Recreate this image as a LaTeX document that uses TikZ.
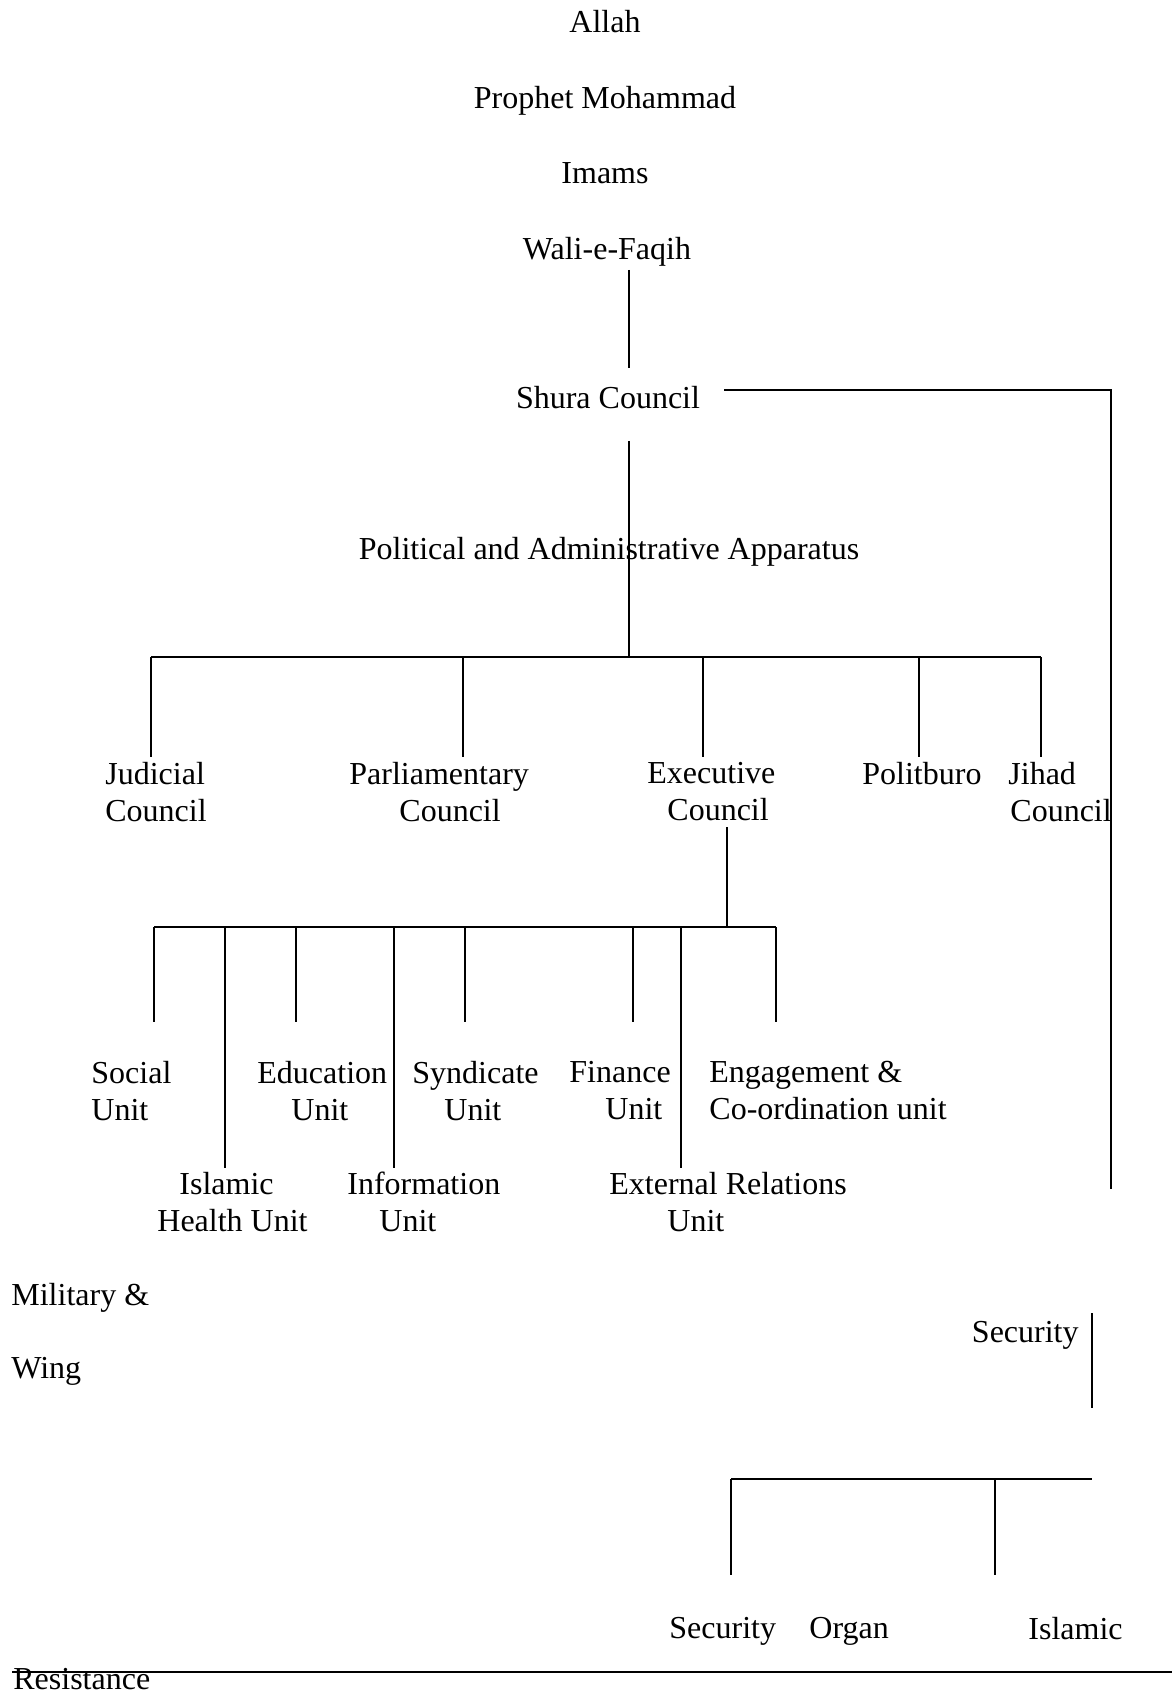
\documentclass[tikz,border=0pt]{standalone}
\usepackage{fontspec}
\setmainfont{Liberation Serif}
\begin{document}
\begin{tikzpicture}[x=0.5pt,y=-0.5pt,
  lbl/.style={inner sep=0pt, font=\fontsize{16}{18.5}\selectfont},
  lft/.style={lbl, anchor=west, align=left},
  ln/.style={line width=1pt}]
\useasboundingbox (0,0) rectangle (1172,1695);
% top chain
\node[lbl] (allah) at (605,22) {Allah};
\node[lbl] (prophet) at (605,101) {Prophet Mohammad};
\node[lbl] (imams) at (605,173) {Imams};
\node[lbl] (wali) at (607,252) {Wali-e-Faqih};
\node[lbl] (shura) at (608,398) {Shura Council};
\node[lbl] (paa) at (609,552) {Political and Administrative Apparatus};
% councils
\node[lft] (jud) at (105,792) {Judicial\\Council};
\node[lft] (parl) at (349,792) {Parliamentary\\\hspace*{25pt}Council};
\node[lft] (exec) at (647,792) {Executive\\\hspace*{10pt}Council};
\node[lft] (polit) at (862,774) {Politburo};
\node[lft] (jihad) at (1008,792) {Jihad\\\hspace*{1pt}Council};
% units
\node[lft] (social) at (91,1091) {Social\\Unit};
\node[lft] (edu) at (257,1091) {Education\\\hspace*{17pt}Unit};
\node[lft] (synd) at (412,1091) {Syndicate\\\hspace*{16pt}Unit};
\node[lft] (fin) at (569,1091) {Finance\\\hspace*{18pt}Unit};
\node[lft] (eng) at (709,1091) {Engagement \&\\Co-ordination unit};
\node[lft] (islh) at (157,1202) {\hspace*{11pt}Islamic\\Health Unit};
\node[lft] (info) at (347,1202) {Information\\\hspace*{16pt}Unit};
\node[lft] (ext) at (609,1202) {External Relations\\\hspace*{29pt}Unit};
% lower part
\node[lft] (mil) at (11,1298) {Military \&};
\node[lft] (wing) at (11,1371) {Wing};
\node[lbl, anchor=east] (sec) at (1079,1335) {Security};
\node[lft] (secb) at (669,1631) {Security};
\node[lft] (organ) at (809,1631) {Organ};
\node[lft] (islb) at (1028,1629) {Islamic};
\node[lbl, anchor=base west] (resist) at (13,1689) {Resistance};
% connectors
\coordinate (w1) at (629,270); \coordinate (s1) at (629,368);
\draw[ln] (w1) -- (s1);
\coordinate (s2) at (724,390); \coordinate (r1) at (1111,390); \coordinate (r2) at (1111,1189);
\draw[ln] (s2) -- (r1) -- (r2);
\coordinate (s3) at (629,441); \coordinate (b1) at (629,657);
\draw[ln] (s3) -- (b1);
\coordinate (bl) at (151,657); \coordinate (br) at (1041,657);
\draw[ln] (bl) -- (br);
\foreach \x/\n in {151/jud,463/parl,703/exec,919/polit,1041/jihad}{
  \coordinate (top\n) at (\x,657); \coordinate (end\n) at (\x,757);
  \draw[ln] (top\n) -- (end\n);
}
\coordinate (e1) at (727,827); \coordinate (e2) at (727,927);
\draw[ln] (e1) -- (e2);
\coordinate (ul) at (154,927); \coordinate (ur) at (776,927);
\draw[ln] (ul) -- (ur);
\foreach \x/\n in {154/social,296/edu,465/synd,633/fin,776/eng}{
  \coordinate (top\n) at (\x,927); \coordinate (end\n) at (\x,1022);
  \draw[ln] (top\n) -- (end\n);
}
\foreach \x/\n in {225/islh,394/info,681/ext}{
  \coordinate (top\n) at (\x,927); \coordinate (end\n) at (\x,1168);
  \draw[ln] (top\n) -- (end\n);
}
\coordinate (q1) at (1092,1313); \coordinate (q2) at (1092,1408);
\draw[ln] (q1) -- (q2);
\coordinate (sbl) at (731,1479); \coordinate (sbr) at (1092,1479);
\draw[ln] (sbl) -- (sbr);
\foreach \x/\n in {731/secb,995/islb}{
  \coordinate (top\n) at (\x,1479); \coordinate (end\n) at (\x,1575);
  \draw[ln] (top\n) -- (end\n);
}
\coordinate (f1) at (12,1672); \coordinate (f2) at (1172,1672);
\draw[ln] (f1) -- (f2);
\end{tikzpicture}
\end{document}
